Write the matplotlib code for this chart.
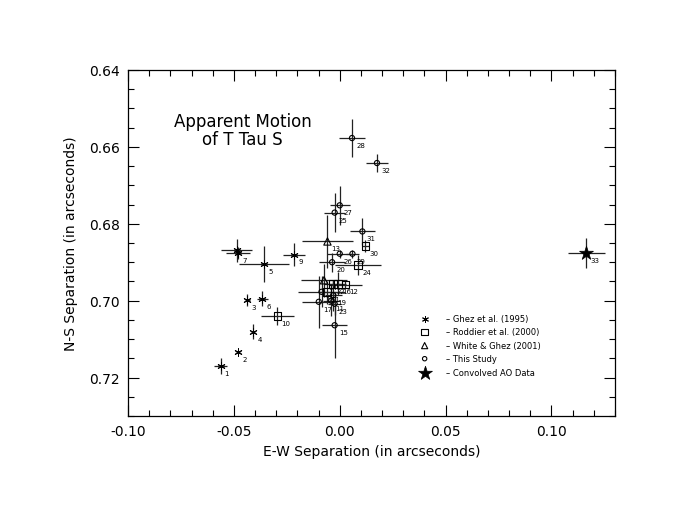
import numpy as np
import matplotlib.pyplot as plt
from matplotlib.ticker import MultipleLocator

# point data: label, E-W offset, N-S offset, errors, source
labels = ['1', '2', '3', '4', '5', '6', '7', '', '9',
          '10', '12', '22', '16', '21', '24', '30',
          '13', '14',
          '11', '15', '17', '18', '19', '20', '23', '25', '26', '27', '28', '29', '31', '32',
          '33']
ew = [-0.0563, -0.0480, -0.0437, -0.0409, -0.0358, -0.0366, -0.0480, -0.0487, -0.0216,
      -0.0294, 0.0027, -0.0033, -0.0009, -0.0059, 0.0087, 0.0121,
      -0.0058, -0.0074,
      -0.0040, -0.0024, -0.0099, -0.0086, -0.0031, -0.0036, -0.0024, -0.0024, 0.0000, 0.0000, 0.0058, 0.0060, 0.0107, 0.0176,
      0.1164]
ns = [0.7170, 0.7133, 0.6999, 0.7081, 0.6904, 0.6995, 0.6876, 0.6869, 0.6880,
      0.7040, 0.6958, 0.6956, 0.6956, 0.6978, 0.6908, 0.6858,
      0.6846, 0.6947,
      0.7000, 0.7064, 0.7003, 0.6977, 0.6986, 0.6900, 0.7008, 0.6771, 0.6878, 0.6752, 0.6577, 0.6878, 0.6820, 0.6642,
      0.6876]
ew_err = [0.003, 0.001, 0.0012, 0.001, 0.012, 0.0025, 0.0055, 0.0073, 0.005,
          0.0076, 0.008, 0.004, 0.004, 0.004, 0.011, 0.0015,
          0.012, 0.011,
          0.004, 0.006, 0.008, 0.0113, 0.004, 0.006, 0.003, 0.005, 0.006, 0.0047, 0.006, 0.003, 0.006, 0.005,
          0.0087]
ns_err = [0.002, 0.0005, 0.0015, 0.002, 0.0047, 0.002, 0.0015, 0.003, 0.003,
          0.0023, 0.001, 0.001, 0.003, 0.003, 0.0026, 0.0015,
          0.0068, 0.0043,
          0.004, 0.0085, 0.0067, 0.004, 0.004, 0.0025, 0.003, 0.005, 0.001, 0.005, 0.005, 0.001, 0.0035, 0.0024,
          0.004]
source = ['G'] * 9 + ['R'] * 7 + ['W'] * 2 + ['T'] * 14 + ['C']

legend_names = ['Ghez et al. (1995)', 'Roddier et al. (2000)', 'White & Ghez (2001)',
                'This Study', 'Convolved AO Data']
legend_keys = ['G', 'R', 'W', 'T', 'C']

styles = {
    'G': dict(marker=(6, 2, 0), s=28, facecolors='k', edgecolors='k', linewidths=0.7),
    'R': dict(marker='s', s=30, facecolors='none', edgecolors='k', linewidths=0.8),
    'W': dict(marker='^', s=28, facecolors='none', edgecolors='k', linewidths=0.8),
    'T': dict(marker='o', s=14, facecolors='none', edgecolors='k', linewidths=0.8),
    'C': dict(marker='*', s=110, facecolors='k', edgecolors='k', linewidths=0.5),
}

fig = plt.figure(figsize=(6.87, 5.10), dpi=100)
ax = fig.add_axes([0.1863, 0.1824, 0.7089, 0.6784])

ew = np.array(ew)
ns = np.array(ns)
src = np.array(source)

ax.errorbar(ew, ns, xerr=ew_err, yerr=ns_err, fmt='none', ecolor='#222222',
            elinewidth=0.9, capsize=0, zorder=1)

for key in legend_keys:
    m = src == key
    ax.scatter(ew[m], ns[m], zorder=3, **styles[key])

for lab, x, y in zip(labels, ew, ns):
    if lab:
        ax.annotate(lab, (x, y), xytext=(3, -5), textcoords='offset points',
                    fontsize=5, ha='left', va='center')

# hand-drawn style legend inside the plot
leg_y = [0.7047, 0.7081, 0.7117, 0.7151, 0.7187]
for key, name, y in zip(legend_keys, legend_names, leg_y):
    st = dict(styles[key])
    if key != 'C':
        st['s'] = st['s'] * 0.7
    ax.scatter([0.0401], [y], zorder=3, **st)
    ax.text(0.0500, y, '\u2013 ' + name, fontsize=6, ha='left', va='center')

ax.text(-0.0458, 0.6555, 'Apparent Motion\nof T Tau S', fontsize=12,
        ha='center', va='center', linespacing=1.0)

ax.set_xlim(-0.10, 0.13)
ax.set_ylim(0.73, 0.64)
ax.xaxis.set_minor_locator(MultipleLocator(0.01))
ax.yaxis.set_minor_locator(MultipleLocator(0.005))
ax.set_xticks([-0.10, -0.05, 0.0, 0.05, 0.10])
ax.set_xticklabels(['-0.10', '-0.05', '0.00', '0.05', '0.10'])
ax.set_yticks([0.64, 0.66, 0.68, 0.70, 0.72])
ax.set_yticklabels(['0.64', '0.66', '0.68', '0.70', '0.72'])
ax.tick_params(which='both', direction='in', top=True, right=True, labelsize=10)
ax.tick_params(which='major', length=8, width=0.8, pad=6)
ax.tick_params(which='minor', length=4, width=0.8)
for sp in ax.spines.values():
    sp.set_linewidth(0.9)

ax.set_xlabel('E-W Separation (in arcseconds)', fontsize=10, labelpad=4)
ax.set_ylabel('N-S Separation (in arcseconds)', fontsize=10, labelpad=8)

fig.savefig('out.png', dpi=100)
